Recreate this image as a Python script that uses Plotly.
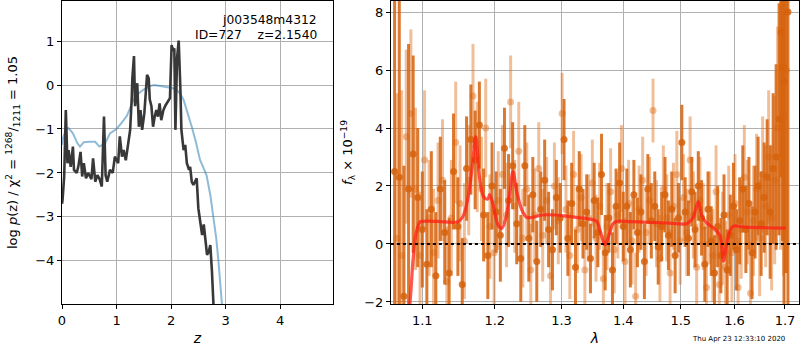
import plotly.graph_objects as go

# ---------------- Left panel: p(z) ----------------
pz_z = [0.00, 0.01, 0.04, 0.07, 0.10, 0.12, 0.16, 0.20, 0.22, 0.27, 0.30, 0.34, 0.37, 0.40, 0.44, 0.48,
        0.54, 0.57, 0.61, 0.65, 0.69, 0.73, 0.77, 0.80, 0.83, 0.88, 0.93, 0.97, 1.03, 1.06, 1.10,
        1.13, 1.17, 1.22, 1.25, 1.28, 1.29, 1.32, 1.34, 1.38, 1.41, 1.44, 1.47, 1.51, 1.54, 1.56,
        1.59, 1.61, 1.64, 1.67, 1.70, 1.73, 1.76, 1.79, 1.82, 1.86, 1.90, 1.94, 1.98, 2.01, 2.03,
        2.06, 2.08, 2.11, 2.14, 2.17, 2.19, 2.23, 2.26, 2.29, 2.33, 2.35, 2.38, 2.41, 2.44, 2.47,
        2.50, 2.53, 2.57, 2.60, 2.63, 2.66, 2.69, 2.72, 2.75, 2.78, 2.80]
pz_logp = [-2.70, -2.61, -2.08, -0.57, -1.78, -1.48, -1.86, -1.40, -1.93, -2.00, -1.85, -1.52, -2.08, -1.78,
           -2.12, -2.00, -2.14, -1.67, -2.20, -2.05, -2.14, -2.31, -0.72, -2.06, -2.20, -1.93, -2.00, -1.63,
           -1.78, -1.17, -1.63, -1.48, -1.71, -1.25, -1.02, -0.27, 0.15, 0.66, -0.48, 0.04, -0.95, -0.57,
           -1.02, -0.64, -0.04, 0.23, 0.15, -0.33, -0.48, -0.95, -0.72, -0.57, -0.72, -0.42, -0.80, -0.57,
           -0.46, -0.39, -0.30, 0.91, 0.80, 0.83, -1.02, 0.61, 1.01, -0.04, -1.02, -1.48, -1.36, -1.78,
           -1.93, -1.86, -2.20, -2.27, -2.20, -2.12, -2.80, -3.10, -3.41, -3.17, -3.56, -3.86, -3.80,
           -3.64, -4.24, -4.96, -5.60]

tmpl_z = [0.00, 0.02, 0.07, 0.12, 0.20, 0.28, 0.33, 0.40, 0.50, 0.61, 0.685, 0.79, 0.88, 1.00, 1.10,
          1.19, 1.31, 1.40, 1.49, 1.60, 1.69, 1.80, 1.92, 2.02, 2.10, 2.17, 2.23, 2.30, 2.38, 2.46,
          2.53, 2.60, 2.65, 2.72, 2.78, 2.83, 2.87, 2.90, 2.93, 2.96]
tmpl_logp = [-1.36, -1.20, -1.02, -0.98, -1.10, -1.32, -1.40, -1.30, -1.29, -1.29, -1.40, -1.33, -1.10,
             -1.00, -0.85, -0.70, -0.34, -0.20, -0.11, -0.03, 0.00, -0.02, -0.05, -0.07, -0.11, -0.20,
             -0.34, -0.60, -0.95, -1.32, -1.70, -1.90, -2.05, -2.50, -3.03, -3.50, -4.02, -4.45, -4.96, -5.40]

# ---------------- Right panel: spectrum ----------------
dark_wave = [1.064, 1.070, 1.076, 1.082, 1.088, 1.094, 1.100, 1.106, 1.112, 1.118,
             1.124, 1.130, 1.136, 1.142, 1.148, 1.154, 1.160, 1.166, 1.172, 1.178,
             1.184, 1.190, 1.196, 1.202, 1.208, 1.214, 1.220, 1.226, 1.232, 1.238,
             1.244, 1.250, 1.256, 1.262, 1.268, 1.274, 1.280, 1.286, 1.292, 1.298,
             1.304, 1.310, 1.316, 1.322, 1.328, 1.334, 1.340, 1.346, 1.352, 1.358,
             1.364, 1.370, 1.376, 1.382, 1.388, 1.394, 1.400, 1.406, 1.412, 1.418,
             1.424, 1.430, 1.436, 1.442, 1.448, 1.454, 1.460, 1.466, 1.472, 1.478,
             1.484, 1.490, 1.496, 1.502, 1.508, 1.514, 1.520, 1.526, 1.532, 1.538,
             1.544, 1.550, 1.556, 1.562, 1.568, 1.574, 1.580, 1.586, 1.592, 1.598,
             1.604, 1.610, 1.616, 1.622, 1.628, 1.634, 1.640, 1.646, 1.652, 1.658,
             1.664, 1.670, 1.676, 1.682, 1.688, 1.692, 1.695, 1.698, 1.702, 1.706]
dark_flux = [2.5, 2.3, -1.8, 1.9, 3.1, 1.6, 0.5, -0.7, 1.2, -1.1,
             1.9, 0.4, -1.0, 2.5, 0.6, -1.4, 2.6, 3.6, 2.9, 4.1,
             1.0, -0.4, 2.0, 1.1, 0.3, 3.3, 1.5, 2.7, 0.7, -0.5,
             2.7, 0.2, 1.7, -0.6, 1.2, 2.2, 0.5, -0.2, 1.6, 0.9,
             3.6, 0.2, 1.4, -0.8, 1.9, 0.7, 1.1, -0.5, 1.5, 0.4,
             2.4, -0.3, 0.9, -0.9, 1.3, 2.1, 0.6, 1.3, -0.2, 1.7,
             0.4, 1.1, -0.6, 1.9, 0.8, 1.3, -0.1, 0.6, 1.7, 0.3,
             1.2, -0.4, 0.9, 3.5, 1.1, 0.2, 1.8, 0.5, 2.0, 0.9,
             -0.7, 1.2, 0.1, -1.0, 0.6, -0.4, 1.0, -0.9, 0.3, 1.3,
             -0.2, 0.8, 1.9, 0.5, 1.4, -0.3, 1.1, 2.0, 0.7, 1.6,
             2.3, 1.1, 2.6, 3.0, 4.3, 7.3, 6.1, 5.6, 9.0, 8.0]
dark_err = [9.0, 9.0, 4.5, 5.0, 3.4, 2.4, 2.0, 1.9, 2.0, 2.2,
            1.8, 1.8, 1.9, 2.0, 1.7, 1.6, 1.8, 1.9, 1.7, 1.5,
            1.6, 1.5, 1.5, 1.4, 1.6, 1.4, 1.6, 1.5, 1.4, 1.5,
            1.4, 1.5, 1.3, 1.4, 1.3, 1.4, 1.3, 1.4, 1.3, 1.2,
            1.4, 1.3, 1.4, 1.3, 1.3, 1.2, 1.3, 1.2, 1.3, 1.2,
            1.4, 1.3, 1.2, 1.3, 1.3, 1.4, 1.2, 1.3, 1.3, 1.2,
            1.2, 1.3, 1.3, 1.2, 1.3, 1.2, 1.3, 1.2, 1.3, 1.2,
            1.3, 1.3, 1.2, 1.3, 1.2, 1.3, 1.2, 1.3, 1.2, 1.3,
            1.3, 1.3, 1.2, 1.3, 1.4, 1.3, 1.4, 1.4, 1.4, 1.5,
            1.4, 1.5, 1.5, 1.5, 1.6, 1.6, 1.6, 1.7, 1.8, 1.9,
            2.0, 2.3, 2.6, 3.2, 4.0, 5.0, 6.0, 8.0, 10.0, 12.0]

light_wave = [1.067, 1.073, 1.079, 1.085, 1.091, 1.097, 1.103, 1.109, 1.115, 1.121,
              1.127, 1.133, 1.139, 1.145, 1.151, 1.157, 1.163, 1.169, 1.175, 1.181,
              1.187, 1.193, 1.199, 1.205, 1.211, 1.217, 1.223, 1.229, 1.235, 1.241,
              1.247, 1.253, 1.259, 1.265, 1.271, 1.277, 1.283, 1.289, 1.295, 1.301,
              1.307, 1.313, 1.319, 1.325, 1.331, 1.337, 1.343, 1.349, 1.355, 1.361,
              1.367, 1.373, 1.379, 1.385, 1.391, 1.397, 1.403, 1.409, 1.415, 1.421,
              1.427, 1.433, 1.439, 1.445, 1.451, 1.457, 1.463, 1.469, 1.475, 1.481,
              1.487, 1.493, 1.499, 1.505, 1.511, 1.517, 1.523, 1.529, 1.535, 1.541,
              1.547, 1.553, 1.559, 1.565, 1.571, 1.577, 1.583, 1.589, 1.595, 1.601,
              1.607, 1.613, 1.619, 1.625, 1.631, 1.637, 1.643, 1.649, 1.655, 1.661,
              1.667, 1.673, 1.679, 1.685, 1.691, 1.697, 1.703]
light_flux = [0.2, -0.4, 3.7, 4.5, 1.9, -0.4, 2.9, 0.9, -0.3, 1.5,
              2.2, -1.3, 0.9, 3.5, 1.4, 0.1, 2.2, 5.1, 3.0, 1.9,
              4.0, 0.6, -0.3, 1.5, 2.4, 1.0, 4.9, 1.3, 3.2, 0.2,
              1.9, -0.9, 1.0, 2.6, 0.3, 1.5, -1.1, 2.0, 0.8, 4.5,
              1.2, -0.4, 2.4, 0.5, 1.6, -0.9, 0.9, 2.1, 0.2, 1.3,
              -1.2, 0.6, 1.8, -0.2, 1.0, 2.6, -0.6, 1.4, 0.1, -1.8,
              1.2, 2.2, 0.4, 1.5, 4.6, 0.7, -0.5, 1.9, 0.9, -1.0,
              1.3, 2.4, 0.1, 1.6, 0.4, 2.9, 1.0, -0.8, 1.5, 0.6,
              -1.5, 0.9, -0.4, 1.8, -1.4, 0.2, -0.8, 1.0, -0.3, 1.4,
              -1.5, 0.5, 2.3, 1.1, -1.7, 0.8, 1.9, 0.2, 2.4, 1.3,
              3.0, 0.9, 2.2, 4.0, 4.3, 4.4, 6.0]
light_err = [5.0, 5.7, 3.0, 2.9, 2.8, 2.2, 2.4, 2.0, 2.2, 2.0,
             2.1, 1.9, 2.0, 2.1, 2.0, 2.0, 1.9, 1.8, 1.9, 1.8,
             1.7, 1.8, 1.8, 1.7, 1.7, 1.8, 1.6, 1.6, 1.7, 1.7,
             1.6, 1.6, 1.6, 1.6, 1.6, 1.5, 1.6, 1.5, 1.5, 1.4,
             1.5, 1.5, 1.5, 1.5, 1.5, 1.5, 1.5, 1.5, 1.5, 1.5,
             1.5, 1.5, 1.5, 1.5, 1.5, 1.5, 1.5, 1.5, 1.5, 1.5,
             1.5, 1.5, 1.5, 1.5, 1.1, 1.5, 1.5, 1.5, 1.5, 1.5,
             1.5, 1.5, 1.5, 1.5, 1.5, 1.5, 1.5, 1.5, 1.5, 1.5,
             1.6, 1.6, 1.6, 1.6, 1.6, 1.6, 1.6, 1.7, 1.7, 1.7,
             1.7, 1.7, 1.8, 1.8, 1.8, 1.9, 1.9, 2.0, 2.0, 2.1,
             2.3, 2.5, 2.9, 3.5, 4.5, 5.5, 7.0]

model_wave = [1.078, 1.0835, 1.088, 1.092, 1.097, 1.100, 1.120, 1.148, 1.155, 1.1614, 1.168, 1.1729,
              1.178, 1.184, 1.190, 1.1925, 1.197, 1.2048, 1.210, 1.216, 1.222, 1.2265, 1.232, 1.240,
              1.2468, 1.255, 1.270, 1.290, 1.310, 1.330, 1.345, 1.356, 1.3625, 1.3695, 1.376, 1.383,
              1.389, 1.400, 1.440, 1.480, 1.5108, 1.522, 1.532, 1.538, 1.5446, 1.560, 1.572, 1.579,
              1.586, 1.5967, 1.620, 1.660, 1.7015]
model_flux = [-3.0, -2.1, -0.5, 0.4, 0.76, 0.78, 0.78, 0.77, 0.95, 1.52, 2.67, 3.70,
              2.32, 1.63, 1.55, 1.70, 1.40, 0.65, 0.54, 0.90, 1.80, 2.50, 1.80, 1.15,
              0.92, 0.92, 1.00, 1.00, 0.95, 0.90, 0.86, 0.78, 0.40, -0.03, 0.30, 0.70,
              0.78, 0.78, 0.75, 0.72, 0.70, 0.90, 1.46, 1.00, 0.78, 0.55, 0.30, -0.59,
              0.10, 0.60, 0.58, 0.56, 0.55]

zero_wave = [1.0, 1.8]
zero_flux = [0.0, 0.0]

xtick_z = [0, 1, 2, 3, 4]
ytick_logp = [-4, -3, -2, -1, 0, 1]
xtick_lam = [1.1, 1.2, 1.3, 1.4, 1.5, 1.6, 1.7]
ytick_flux = [-2, 0, 2, 4, 6, 8]

FONT = "DejaVu Sans"
GRID = "#b0b0b0"
ML, MR, MT, MB = 62, 1, 1, 46
PW, PH = 800 - ML - MR, 350 - MT - MB


def minus(v):
    return str(v).replace("-", "\u2212")


fig = go.Figure()

# left panel
fig.add_trace(go.Scatter(x=tmpl_z, y=tmpl_logp, mode="lines",
                         line=dict(color="rgba(31,119,180,0.5)", width=2), xaxis="x", yaxis="y",
                         showlegend=False))
fig.add_trace(go.Scatter(x=pz_z, y=pz_logp, mode="lines",
                         line=dict(color="#383838", width=2.6), xaxis="x", yaxis="y",
                         showlegend=False))

# right panel
fig.add_trace(go.Scatter(x=light_wave, y=light_flux, mode="markers",
                         marker=dict(color="rgba(222,112,30,0.45)", size=7),
                         error_y=dict(type="data", array=light_err, color="rgba(222,112,30,0.45)",
                                      thickness=3, width=0),
                         xaxis="x2", yaxis="y2", showlegend=False))
fig.add_trace(go.Scatter(x=dark_wave, y=dark_flux, mode="markers",
                         marker=dict(color="rgba(214,98,12,0.85)", size=7),
                         error_y=dict(type="data", array=dark_err, color="rgba(214,98,12,0.85)",
                                      thickness=3, width=0),
                         xaxis="x2", yaxis="y2", showlegend=False))
fig.add_trace(go.Scatter(x=model_wave, y=model_flux, mode="lines", line_shape="spline",
                         line=dict(color="rgba(255,30,20,0.75)", width=3.2),
                         xaxis="x2", yaxis="y2", showlegend=False))
fig.add_trace(go.Scatter(x=zero_wave, y=zero_flux, mode="lines",
                         line=dict(color="black", width=2, dash="dot"),
                         xaxis="x2", yaxis="y2", showlegend=False))

axcommon = dict(showline=True, linecolor="black", linewidth=1, mirror=True,
                showgrid=True, gridcolor=GRID, gridwidth=1, zeroline=False,
                ticks="outside", ticklen=4, tickcolor="black", automargin=False,
                tickfont=dict(family=FONT, size=13, color="black"))

fig.update_layout(
    width=800, height=350,
    margin=dict(l=ML, r=MR, t=MT, b=MB, autoexpand=False),
    paper_bgcolor="white", plot_bgcolor="white",
    font=dict(family=FONT, color="black"),
    xaxis=dict(domain=[0, (333 - ML) / PW], range=[0, 4.97], tickvals=xtick_z, anchor="y",
               title=dict(text="<i>z</i>", font=dict(size=14), standoff=6), **axcommon),
    yaxis=dict(domain=[0, 1], range=[-4.98, 1.91], tickvals=ytick_logp,
               ticktext=[minus(v) for v in ytick_logp], anchor="x",
               title=dict(text="log <i>p</i>(z) / χ<sup>2</sup> = <sup>1268</sup>/<sub>1211</sub> = 1.05",
                          font=dict(size=13), standoff=14),
               **axcommon),
    xaxis2=dict(domain=[(391 - ML) / PW, 1], type="log", range=[0.02507, 0.23775], tickvals=xtick_lam,
                ticktext=[str(v) for v in xtick_lam], anchor="y2",
                title=dict(text="<i>λ</i>", font=dict(size=14), standoff=6), **axcommon),
    yaxis2=dict(domain=[0, 1], range=[-2.07, 8.38], tickvals=ytick_flux,
                ticktext=[minus(v) for v in ytick_flux], anchor="x2",
                title=dict(text="<i>f</i><sub>λ</sub> × 10<sup>\u221219</sup>", font=dict(size=13),
                           standoff=8),
                **axcommon),
    annotations=[
        dict(text="j003548m4312", x=(319 - ML) / PW, y=(350 - MB - 20) / PH, xref="paper", yref="paper",
             xanchor="right", yanchor="middle", showarrow=False, font=dict(family=FONT, size=12.3)),
        dict(text="ID=727    z=2.1540", x=(319 - ML) / PW, y=(350 - MB - 35) / PH, xref="paper",
             yref="paper", xanchor="right", yanchor="middle", showarrow=False,
             font=dict(family=FONT, size=12.3)),
        dict(text="Thu Apr 23 12:33:10 2020", x=(787 - ML) / PW, y=(350 - MB - 339) / PH,
             xref="paper", yref="paper", showarrow=False, font=dict(family=FONT, size=7),
             xanchor="right", yanchor="middle"),
    ],
)

fig.write_html("out.html", config={"displayModeBar": False},
               post_script="document.body.style.margin='0px';")
